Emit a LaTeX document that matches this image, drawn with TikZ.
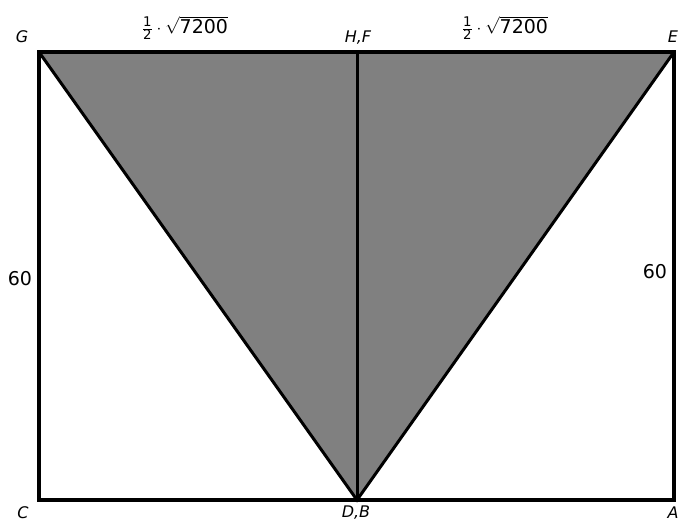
\documentclass[tikz,border=0pt]{standalone}
\usepackage{fontspec}
\setmainfont{DejaVu Sans}
\usepackage{amsmath}
\usetikzlibrary{positioning, calc}
\definecolor{shadeGray}{HTML}{808080}
\tikzset{
  edge/.style={line width=4pt, black, line cap=rect},
  diag/.style={line width=3pt, black},
  vlabel/.style={font=\fontsize{16}{18}\selectfont\itshape, inner sep=1pt},
  nlabel/.style={font=\fontsize{19}{21}\selectfont, inner sep=1pt},
}

\begin{document}
\begin{tikzpicture}[x=1pt, y=-1pt]
    \useasboundingbox (0,0) rectangle (681,523);
    \coordinate (G) at (39,52);
    \coordinate (E) at (674,52);
    \coordinate (C) at (39,500);
    \coordinate (A) at (674,500);
    \coordinate (DB) at (357,500);
    \coordinate (HF) at (357,52);

    % shaded triangle
    \fill[shadeGray] (G) -- (E) -- (DB) -- cycle;
    \draw[diag] (G) -- (DB) -- (E);
    \draw[diag] (HF) -- (DB);
    \draw[edge] (G) rectangle (A);

    % corner labels
    \node[vlabel] (lG) at (22,37) {G};
    \node[vlabel] (lHF) at (358,38) {H,F};
    \node[vlabel] (lE) at (673,37) {E};
    \node[vlabel] (lC) at (23,513) {C};
    \node[vlabel] (lDB) at (356,513) {D,B};
    \node[vlabel] (lA) at (673,513) {A};

    % side lengths
    \node[nlabel] (top1) at (185,28) {$\tfrac{\text{1}}{\text{2}}\cdot\sqrt{\text{7200}}$};
    \node[nlabel] (top2) at (505,28) {$\tfrac{\text{1}}{\text{2}}\cdot\sqrt{\text{7200}}$};
    \node[nlabel] (left60) at (20,279) {60};
    \node[nlabel] (right60) at (655,272) {60};
\end{tikzpicture}
\end{document}
